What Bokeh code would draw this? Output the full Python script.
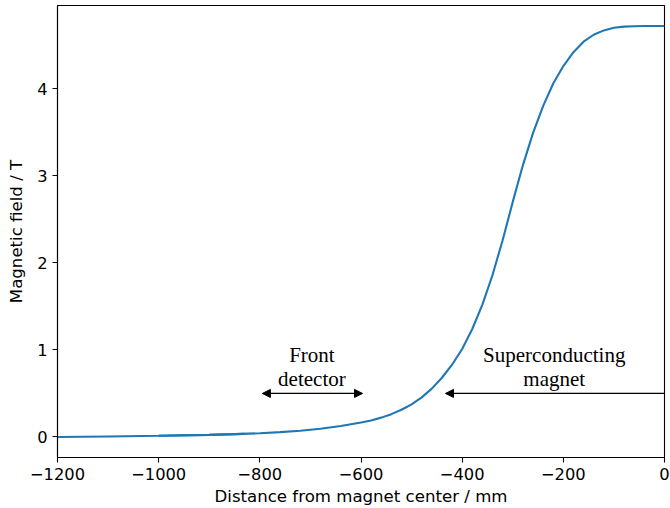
from bokeh.plotting import figure
from bokeh.models import FixedTicker, Arrow, NormalHead, Label, Range1d
from bokeh.embed import file_html
from bokeh.resources import INLINE

# Longitudinal field profile along the beam axis
distance_mm = [-1200, -1100, -1000, -900, -850, -800, -760, -720, -680, -640,
               -600, -580, -560, -540, -520, -500, -480, -460, -440, -420,
               -400, -380, -360, -340, -320, -300, -280, -260, -240, -220,
               -200, -180, -160, -140, -120, -100, -80, -60, -40, -20, 0]
field_T = [0.000, 0.006, 0.013, 0.024, 0.032, 0.043, 0.055, 0.072, 0.095, 0.125,
           0.165, 0.190, 0.222, 0.262, 0.312, 0.375, 0.455, 0.555, 0.680, 0.830,
           1.010, 1.240, 1.520, 1.860, 2.260, 2.700, 3.120, 3.490, 3.800, 4.060,
           4.260, 4.420, 4.540, 4.620, 4.670, 4.700, 4.713, 4.718, 4.720, 4.720,
           4.720]

# Short stretch of the measurement that was recorded twice
overlap_mm = [-1000, -900, -830]
overlap_T = [0.013, 0.024, 0.035]

x_ticks = [-1200, -1000, -800, -600, -400, -200, 0]
y_ticks = [0, 1, 2, 3, 4]

# Region markers (start, end, height) in data units
front_detector = (-795, -597, 0.5)
magnet_region = (0, -433, 0.5)

BLUE = "#1f77b4"

p = figure(width=670, height=508, output_backend="svg", toolbar_location=None,
           x_range=Range1d(-1200, 0), y_range=Range1d(-0.236, 4.956),
           min_border_left=57, min_border_right=6, min_border_top=5,
           min_border_bottom=50)

p.line(distance_mm, field_T, line_color=BLUE, line_width=2.1)
p.line(overlap_mm, overlap_T, line_color=BLUE, line_width=2.1)

p.xgrid.visible = False
p.ygrid.visible = False
p.background_fill_color = "white"
p.border_fill_color = "white"
p.outline_line_color = "black"
p.outline_line_width = 1.1

p.xaxis.ticker = FixedTicker(ticks=x_ticks)
p.yaxis.ticker = FixedTicker(ticks=y_ticks)
p.xaxis.major_label_overrides = {t: (str(t).replace("-", "\u2212")) for t in x_ticks}
p.yaxis.major_label_overrides = {t: str(t) for t in y_ticks}

p.xaxis.axis_label = "Distance from magnet center / mm"
p.yaxis.axis_label = "Magnetic field / T"

for ax in (p.xaxis[0], p.yaxis[0]):
    ax.axis_line_color = "black"
    ax.axis_line_width = 1.1
    ax.major_tick_line_color = "black"
    ax.major_tick_line_width = 1.1
    ax.major_tick_in = 0
    ax.major_tick_out = 5
    ax.minor_tick_line_color = None
    ax.major_label_text_font = "DejaVu Sans"
    ax.major_label_text_font_size = "16.3px"
    ax.major_label_text_color = "black"
    ax.major_label_standoff = 5
    ax.axis_label_text_font = "DejaVu Sans"
    ax.axis_label_text_font_size = "16.6px"
    ax.axis_label_text_font_style = "normal"
    ax.axis_label_text_color = "black"

p.xaxis.axis_label_standoff = 4
p.yaxis.axis_label_standoff = 8

head = dict(size=8, fill_color="black", line_color="black")

# Double-headed arrow for the front detector
x0, x1, yy = front_detector
p.add_layout(Arrow(x_start=x0, x_end=x1, y_start=yy, y_end=yy,
                   start=NormalHead(**head), end=NormalHead(**head),
                   line_color="black", line_width=1.3))

# One-sided arrow for the superconducting magnet
x0, x1, yy = magnet_region
p.add_layout(Arrow(x_start=x0, x_end=x1, y_start=yy, y_end=yy,
                   end=NormalHead(**head), line_color="black", line_width=1.3))

labels = [("Front", -697, 0.945), ("detector", -697, 0.665),
          ("Superconducting", -218, 0.945), ("magnet", -218, 0.665)]
for txt, lx, ly in labels:
    p.add_layout(Label(x=lx, y=ly, text=txt, text_align="center",
                       text_baseline="alphabetic", text_font="Liberation Serif",
                       text_font_size="21px", text_color="black"))

open("out.html", "w").write(file_html(p, INLINE))
